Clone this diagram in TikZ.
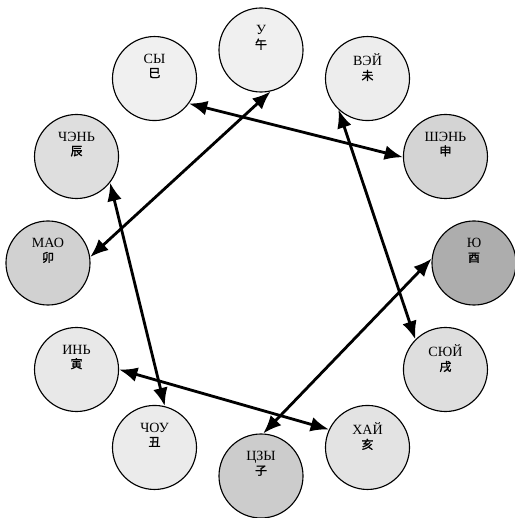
\documentclass[tikz,border=0pt]{standalone}
\usepackage{fontspec}
\setmainfont{Liberation Serif}
\newfontfamily\cjk[FakeBold=1.5]{Noto Sans CJK SC}
\usetikzlibrary{arrows.meta}
\newcommand{\zhi}[1]{{\cjk\fontsize{8.5}{10}\selectfont #1}}
\tikzset{
  sign/.style={circle, draw, line width=0.8pt, minimum size=2.1cm, inner sep=0pt},
  signtext/.style={align=center, anchor=north, inner sep=0pt, font=\fontsize{10}{10}\selectfont},
  pairarrow/.style={{Latex[length=13pt,width=10.5pt]}-{Latex[length=13pt,width=10.5pt]}, line width=2pt}
}
\begin{document}
\begin{tikzpicture}[x=0.025cm, y=0.025cm]
  \useasboundingbox (-261,-255) rectangle (253,263);
  % twelve branches round the ring
  \node[sign, fill=black!6]  (wu)   at (90:213)  {};
  \node[sign, fill=black!6]  (si)   at (120:213) {};
  \node[sign, fill=black!13] (chen) at (150:213) {};
  \node[sign, fill=black!18] (mao)  at (180:213) {};
  \node[sign, fill=black!9]  (yin)  at (210:213) {};
  \node[sign, fill=black!8]  (chou) at (240:213) {};
  \node[sign, fill=black!20] (zi)   at (270:213) {};
  \node[sign, fill=black!11] (hai)  at (300:213) {};
  \node[sign, fill=black!13] (xu)   at (330:213) {};
  \node[sign, fill=black!32] (you)  at (0:213)   {};
  \node[sign, fill=black!17] (shen) at (30:213)  {};
  \node[sign, fill=black!7]  (wei)  at (60:213)  {};
  % names
  \node[signtext] (wu-t)   at ([yshift=0.62cm]wu.center)   {У\\\zhi{午}};
  \node[signtext] (si-t)   at ([yshift=0.62cm]si.center)   {СЫ\\\zhi{巳}};
  \node[signtext] (chen-t) at ([yshift=0.62cm]chen.center) {ЧЭНЬ\\\zhi{辰}};
  \node[signtext] (mao-t)  at ([yshift=0.62cm]mao.center)  {МАО\\\zhi{卯}};
  \node[signtext] (yin-t)  at ([yshift=0.62cm]yin.center)  {ИНЬ\\\zhi{寅}};
  \node[signtext] (chou-t) at ([yshift=0.62cm]chou.center) {ЧОУ\\\zhi{丑}};
  \node[signtext] (zi-t)   at ([yshift=0.62cm]zi.center)   {ЦЗЫ\\\zhi{子}};
  \node[signtext] (hai-t)  at ([yshift=0.62cm]hai.center)  {ХАЙ\\\zhi{亥}};
  \node[signtext] (xu-t)   at ([yshift=0.62cm]xu.center)   {СЮЙ\\\zhi{戌}};
  \node[signtext] (you-t)  at ([yshift=0.62cm]you.center)  {Ю\\\zhi{酉}};
  \node[signtext] (shen-t) at ([yshift=0.62cm]shen.center) {ШЭНЬ\\\zhi{申}};
  \node[signtext] (wei-t)  at ([yshift=0.62cm]wei.center)  {ВЭЙ\\\zhi{未}};
  % clashes
  \draw[pairarrow] (si.-36) -- (shen.181);
  \draw[pairarrow] (wei.-133) -- (xu.135);
  \draw[pairarrow] (you.174) -- (zi.87);
  \draw[pairarrow] (hai.155) -- (yin.0);
  \draw[pairarrow] (chou.76) -- (chen.-38);
  \draw[pairarrow] (mao.8) -- (wu.-77);
\end{tikzpicture}
\end{document}
